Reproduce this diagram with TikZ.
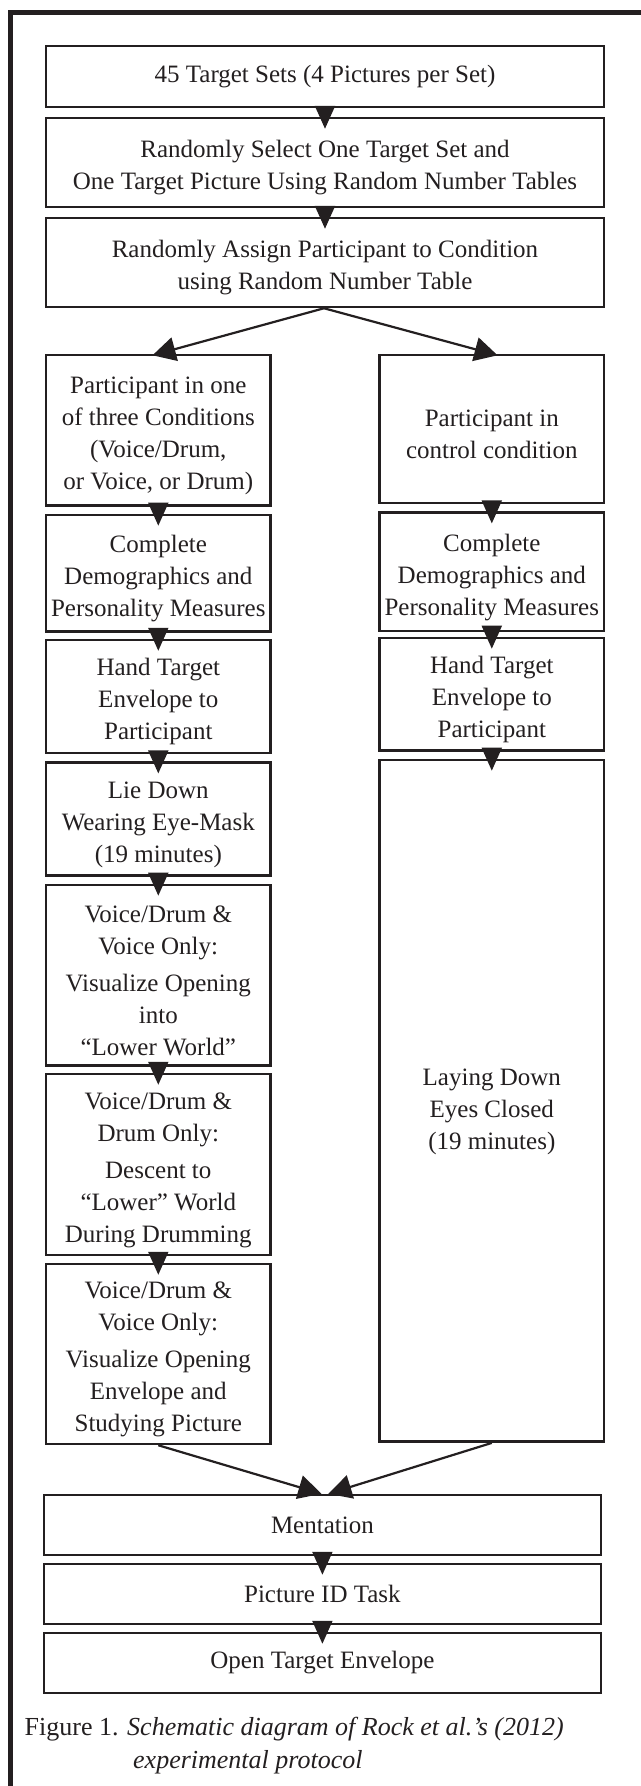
\documentclass[tikz,border=0pt]{standalone}
\usepackage{fontspec}
\setmainfont{Liberation Serif}
\usetikzlibrary{arrows.meta,calc}
\definecolor{ink}{RGB}{35,31,32}
\newcommand{\lowerstrut}{\rule{0pt}{28pt}}
\tikzset{
  box/.style={draw=ink, line width=2.5pt, inner sep=0pt, align=center, text=ink,
    font=\fontsize{25}{32}\selectfont},
  wide/.style={box, minimum width=558pt},
  narrow/.style={box, minimum width=224.5pt},
  stackarrow/.style={draw=ink, line width=2pt, -{Triangle[width=20pt,length=23pt]}, shorten >=-12pt},
  fanarrow/.style={draw=ink, line width=2.2pt, -{Triangle[width=24pt,length=23pt]}},
  captext/.style={anchor=base west, inner sep=0pt, text=ink, font=\fontsize{26}{32}\selectfont}
}
\begin{document}
\begin{tikzpicture}[x=1pt,y=-1pt]
\useasboundingbox (0,0) rectangle (640,1786);
% frame
\draw[ink, line width=5pt] (645,12) -- (10,12) -- (10,1790);
% top boxes
\node[wide, minimum height=61pt] (b1) at (325,76.5) {45 Target Sets (4 Pictures per Set)};
\node[wide, minimum height=89pt] (b2) at (325,162.5) {\lowerstrut Randomly Select One Target Set and\\One Target Picture Using Random Number Tables};
\node[wide, minimum height=89pt] (b3) at (325,262.5) {\lowerstrut Randomly Assign Participant to Condition\\using Random Number Table};
% left column
\node[narrow, minimum height=150.7pt] (l1) at (158.3,430.3) {\lowerstrut Participant in one\\of three Conditions\\(Voice/Drum,\\or Voice, or Drum)};
\node[narrow, minimum height=116.7pt] (l2) at (158.3,573.3) {\lowerstrut Complete\\Demographics and\\Personality Measures};
\node[narrow, minimum height=113pt] (l3) at (158.3,696.5) {\lowerstrut Hand Target\\Envelope to\\Participant};
\node[narrow, minimum height=113pt] (l4) at (158.3,819.2) {\lowerstrut Lie Down\\Wearing Eye-Mask\\(19 minutes)};
\node[narrow, minimum height=180.7pt] (l5) at (158.3,975.3) {\lowerstrut Voice/Drum \&\\Voice Only:\\[5pt]Visualize Opening\\into\\“Lower World”};
\node[narrow, minimum height=181pt] (l6) at (158.3,1164.5) {\lowerstrut Voice/Drum \&\\Drum Only:\\[5pt]Descent to\\“Lower” World\\During Drumming};
\node[narrow, minimum height=180pt] (l7) at (158.3,1354) {\lowerstrut Voice/Drum \&\\Voice Only:\\[5pt]Visualize Opening\\Envelope and\\Studying Picture};
% right column
\node[narrow, minimum height=148pt] (r1) at (491.8,429) {\lowerstrut Participant in\\control condition};
\node[narrow, minimum height=118.3pt] (r2) at (491.8,571.8) {\lowerstrut Complete\\Demographics and\\Personality Measures};
\node[narrow, minimum height=112.7pt] (r3) at (491.8,694.3) {\lowerstrut Hand Target\\Envelope to\\Participant};
\node[narrow, minimum height=681.7pt] (r4) at (491.8,1100.8) {\rule{0pt}{38pt}Laying Down\\Eyes Closed\\(19 minutes)};
% bottom boxes
\node[wide, minimum width=557.3pt, minimum height=60pt] (m) at (322.4,1525) {Mentation};
\node[wide, minimum width=557.3pt, minimum height=60pt] (p) at (322.4,1594) {Picture ID Task};
\node[wide, minimum width=557.3pt, minimum height=60pt] (o) at (322.4,1663) {Open Target Envelope};
% stacked arrows
\draw[stackarrow] (b1.south) -- (b2.north);
\draw[stackarrow] (b2.south) -- (b3.north);
\draw[stackarrow] (l1.south) -- (l2.north);
\draw[stackarrow] (l2.south) -- (l3.north);
\draw[stackarrow] (l3.south) -- (l4.north);
\draw[stackarrow] (l4.south) -- (l5.north);
\draw[stackarrow] (l5.south) -- (l6.north);
\draw[stackarrow] (l6.south) -- (l7.north);
\draw[stackarrow] (r1.south) -- (r2.north);
\draw[stackarrow] (r2.south) -- (r3.north);
\draw[stackarrow] (r3.south) -- (r4.north);
\draw[stackarrow] (m.south) -- (p.north);
\draw[stackarrow] (p.south) -- (o.north);
% fan arrows
\draw[fanarrow, shorten >=-6pt] ([xshift=-1pt]b3.south) -- (l1.north);
\draw[fanarrow, shorten >=-6pt] ([xshift=-1pt]b3.south) -- (r1.north);
\draw[fanarrow] (l7.south) -- ([xshift=-1pt]m.north);
\draw[fanarrow] (r4.south) -- ([xshift=6pt]m.north);
% caption
\node[captext] (cap1) at (24.5,1735) {Figure 1. \textit{Schematic diagram of Rock et al.’s (2012)}};
\node[captext] (cap2) at (133,1768) {\textit{experimental protocol}};
\end{tikzpicture}
\end{document}
